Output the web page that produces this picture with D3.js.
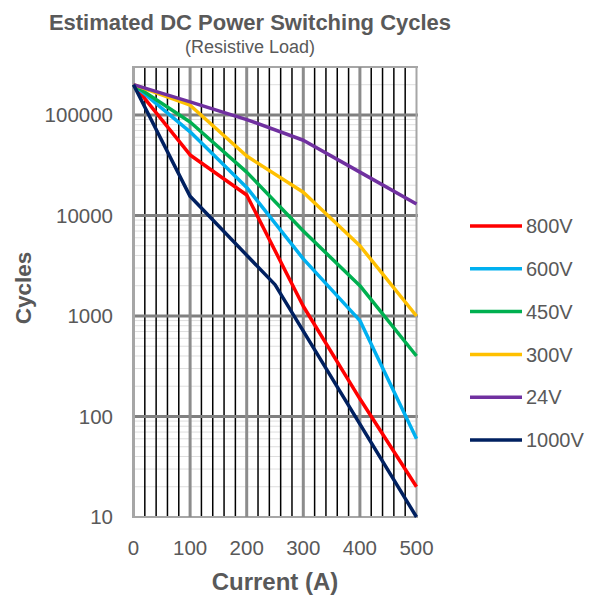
<!DOCTYPE html>
<html>
<head>
<meta charset="utf-8">
<script src="https://cdnjs.cloudflare.com/ajax/libs/d3/7.8.5/d3.min.js"></script>
<style>
  body { margin: 0; background: #fff; }
  text { font-family: "Liberation Sans", Arial, sans-serif; fill: #595959; }
</style>
</head>
<body>
<div class="chart"></div>
<script>
var w = 598, h = 598;

// data
var current = [0, 100, 200, 300, 400, 500];
var v800 = [200000, 40000, 16000, 1250, 150, 20];
var v600 = [200000, 68000, 19000, 3700, 900, 60];
var v450 = [200000, 85000, 27000, 7000, 2000, 400];
var v300 = [200000, 125000, 39000, 17000, 5000, 1000];
var v24 = [200000, 135000, 90000, 56000, 27000, 13000];
var current1000 = [0, 100, 250, 500];
var v1000 = [200000, 15500, 2050, 10];

var seriesNames = ["800V", "600V", "450V", "300V", "24V", "1000V"];
var seriesColors = ["#ff0000", "#00b0f0", "#00b050", "#ffc000", "#7030a0", "#002060"];
var xTicks = [0, 100, 200, 300, 400, 500];
var yTicks = [10, 100, 1000, 10000, 100000];

var series = [
  {name: seriesNames[0], xs: current, ys: v800},
  {name: seriesNames[1], xs: current, ys: v600},
  {name: seriesNames[2], xs: current, ys: v450},
  {name: seriesNames[3], xs: current, ys: v300},
  {name: seriesNames[4], xs: current, ys: v24},
  {name: seriesNames[5], xs: current1000, ys: v1000}
];

var svg = d3.select(".chart")
  .append("svg")
  .attr("width", w)
  .attr("height", h);

var x = d3.scaleLinear().domain([0, 500]).range([133.5, 416.5]);
var y = d3.scaleLog().domain([10, 300000]).range([517, 67]);

// horizontal minor grid (2..9 of each decade)
var minor = [];
for (var e = 1; e <= 5; e++) {
  for (var m = 2; m <= 9; m++) {
    var v = m * Math.pow(10, e);
    if (v < 300000) minor.push(v);
  }
}
svg.append("g").selectAll("line")
  .data(minor)
  .enter()
  .append("line")
  .attr("x1", x(0)).attr("x2", x(500))
  .attr("y1", function(d) { return y(d); })
  .attr("y2", function(d) { return y(d); })
  .attr("stroke", "#dedede")
  .attr("stroke-width", 1);

// vertical minor grid every 20 A
var vMinor = d3.range(20, 500, 20).filter(function(d) { return d % 100 != 0; });
svg.append("g").selectAll("line")
  .data(vMinor)
  .enter()
  .append("line")
  .attr("x1", function(d) { return x(d); })
  .attr("x2", function(d) { return x(d); })
  .attr("y1", y(300000)).attr("y2", y(10))
  .attr("stroke", "#000")
  .attr("stroke-width", 1.5);

// major horizontal grid
svg.append("g").selectAll("line")
  .data(yTicks.concat([300000]))
  .enter()
  .append("line")
  .attr("x1", x(0) - 1.5).attr("x2", x(500) + 1.5)
  .attr("y1", function(d) { return y(d); })
  .attr("y2", function(d) { return y(d); })
  .attr("stroke", function(d) { return (d == 10 || d == 300000) ? "#a6a6a6" : "#808080"; })
  .attr("stroke-width", function(d) { return (d == 10 || d == 300000) ? 2 : 3; });

// major vertical grid
svg.append("g").selectAll("line")
  .data(xTicks)
  .enter()
  .append("line")
  .attr("x1", function(d) { return x(d); })
  .attr("x2", function(d) { return x(d); })
  .attr("y1", y(300000)).attr("y2", y(10))
  .attr("stroke", function(d) { return (d == 0 || d == 500) ? "#a6a6a6" : "#8c8c8c"; })
  .attr("stroke-width", function(d) { return d == 500 ? 2 : 3; });

// series lines
var line = d3.line()
  .x(function(d) { return x(d[0]); })
  .y(function(d) { return y(d[1]); });

svg.append("g").selectAll("path")
  .data(series)
  .enter()
  .append("path")
  .attr("d", function(s) { return line(d3.zip(s.xs, s.ys)); })
  .attr("fill", "none")
  .attr("stroke", function(s, i) { return seriesColors[i]; })
  .attr("stroke-width", 3.5)
  .attr("stroke-linejoin", "round");

// tick labels
svg.append("g").selectAll("text")
  .data(yTicks)
  .enter()
  .append("text")
  .text(function(d) { return d; })
  .attr("x", 113)
  .attr("y", function(d) { return y(d); })
  .attr("dy", "0.36em")
  .attr("text-anchor", "end")
  .attr("font-size", "20.5px");

svg.append("g").selectAll("text")
  .data(xTicks)
  .enter()
  .append("text")
  .text(function(d) { return d; })
  .attr("x", function(d) { return x(d); })
  .attr("y", 548)
  .attr("dy", "0.36em")
  .attr("text-anchor", "middle")
  .attr("font-size", "20.5px");

// titles
svg.append("text")
  .text("Estimated DC Power Switching Cycles")
  .attr("x", 250).attr("y", 30)
  .attr("text-anchor", "middle")
  .attr("font-size", "22px")
  .attr("font-weight", "bold");

svg.append("text")
  .text("(Resistive Load)")
  .attr("x", 250).attr("y", 53)
  .attr("text-anchor", "middle")
  .attr("font-size", "18px");

svg.append("text")
  .text("Current (A)")
  .attr("x", 275).attr("y", 590)
  .attr("text-anchor", "middle")
  .attr("font-size", "24px")
  .attr("font-weight", "bold");

svg.append("text")
  .text("Cycles")
  .attr("transform", "translate(31,288) rotate(-90)")
  .attr("text-anchor", "middle")
  .attr("font-size", "22.5px")
  .attr("font-weight", "bold");

// legend
var legend = svg.append("g").selectAll("g")
  .data(series)
  .enter()
  .append("g")
  .attr("transform", function(d, i) { return "translate(470," + (226 + i * 42.8) + ")"; });

legend.append("line")
  .attr("x1", 0).attr("x2", 52)
  .attr("stroke", function(d, i) { return seriesColors[i]; })
  .attr("stroke-width", 3.5);

legend.append("text")
  .text(function(d) { return d.name; })
  .attr("x", 56)
  .attr("dy", "0.36em")
  .attr("font-size", "20px");
</script>
</body>
</html>
